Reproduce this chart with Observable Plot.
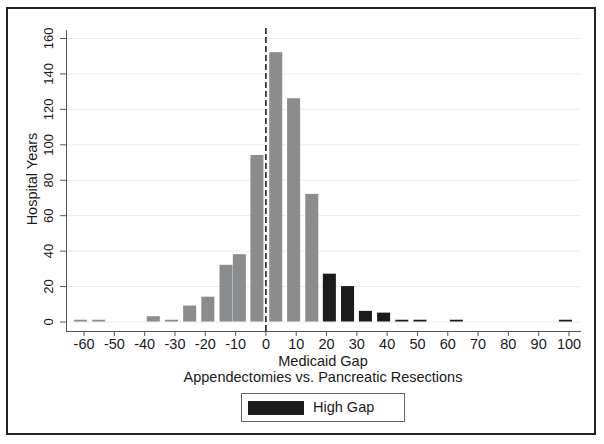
<!DOCTYPE html>
<html>
<head>
<meta charset="utf-8">
<script src="https://cdn.jsdelivr.net/npm/d3@7"></script>
<script src="https://cdn.jsdelivr.net/npm/@observablehq/plot@0.6"></script>
<style>
  html, body { margin: 0; padding: 0; background: #fff; }
  #wrap { position: relative; width: 604px; height: 444px; font-family: "Liberation Sans", Arial, sans-serif; color: #1a1a1a; }
  #frame { position: absolute; left: 6px; top: 7px; width: 590px; height: 428px; box-sizing: border-box; border: 2px solid #222; pointer-events: none; }
  .lbl { position: absolute; font-size: 14.5px; white-space: nowrap; transform: translate(-50%, -50%); }
  #legend { position: absolute; left: 241px; top: 393px; width: 164px; height: 29px; box-sizing: border-box; border: 1px solid #666; background: #fff; }
  #swatch { position: absolute; left: 6px; top: 7px; width: 56px; height: 14px; background: #1c1c1c; }
  #legtext { position: absolute; left: 71px; top: 5px; font-size: 14.5px; }
</style>
</head>
<body>
<div id="wrap">
  <div id="chart"></div>
</div>
<script>
// ---- data ----
const binCenters    = [-61, -55, -37, -31, -25, -19, -13, -8.6, -2.8, 3.4, 9.3, 15.3, 21.1, 27.1, 33, 39, 45, 51, 63, 99];
const hospitalYears = [1, 1, 3, 1, 9, 14, 32, 38, 94, 152, 126, 72, 27, 20, 6, 5, 1, 1, 1, 1];
const gapGroup      = ["low","low","low","low","low","low","low","low","low","low","low","low","high","high","high","high","high","high","high","high"];
const xTickValues   = [-60, -50, -40, -30, -20, -10, 0, 10, 20, 30, 40, 50, 60, 70, 80, 90, 100];
const yTickValues   = [0, 20, 40, 60, 80, 100, 120, 140, 160];
const xLabel = "Medicaid Gap";
const subLabel = "Appendectomies vs. Pancreatic Resections";
const yLabel = "Hospital Years";
const legendLabel = "High Gap";

const barHalf = 2.15;
const xDom = [-65.8, 103.8];
const yDom = [-5.36, 164.5];

const bars = binCenters.map((c, i) => ({c, v: hospitalYears[i], g: gapGroup[i]}));

const chart = Plot.plot({
  width: 604,
  height: 444,
  marginLeft: 66,
  marginRight: 24,
  marginTop: 30,
  marginBottom: 113,
  style: {fontFamily: "Liberation Sans, Arial, sans-serif", fontSize: "14.5px", color: "#1a1a1a", background: "transparent"},
  x: {domain: xDom, axis: null},
  y: {domain: yDom, axis: null},
  color: {domain: ["low", "high"], range: ["#8b8c8e", "#1c1c1c"]},
  marks: [
    Plot.ruleY(yTickValues, {y: d => d, stroke: "#ebebeb", strokeWidth: 1}),
    Plot.rectY(bars, {x1: d => d.c - barHalf, x2: d => d.c + barHalf, y1: () => 0, y2: "v", fill: "g"}),
    Plot.ruleX([0], {x: d => d, y1: () => yDom[0], y2: () => 167.3, stroke: "#111", strokeWidth: 1.5, strokeDasharray: "6,3"}),
    Plot.axisX({ticks: xTickValues, tickSize: 5, tickPadding: 2, tickFormat: d => String(d), stroke: "#555", fill: "#1a1a1a", fontSize: 14.5, label: null}),
    Plot.axisY({ticks: yTickValues, tickSize: 6, tickFormat: () => "", stroke: "#555", label: null}),
    Plot.frame({anchor: "left", stroke: "#555"}),
    Plot.frame({anchor: "bottom", stroke: "#555"}),
    Plot.text(yTickValues, {x: () => xDom[0], y: d => d, text: d => String(d), rotate: -90, dx: -18, fontSize: 13, fill: "#1a1a1a", textAnchor: "middle"})
  ]
});
document.getElementById("chart").appendChild(chart);

const wrap = document.getElementById("wrap");
function addLabel(text, x, y, rot) {
  const el = document.createElement("div");
  el.className = "lbl";
  el.textContent = text;
  el.style.left = x + "px";
  el.style.top = y + "px";
  if (rot) el.style.transform = "translate(-50%, -50%) rotate(" + rot + "deg)";
  wrap.appendChild(el);
}
addLabel(xLabel, 323, 361);
addLabel(subLabel, 323, 377);
addLabel(yLabel, 32, 179, -90);

const leg = document.createElement("div");
leg.id = "legend";
leg.innerHTML = '<div id="swatch"></div><div id="legtext"></div>';
wrap.appendChild(leg);
document.getElementById("legtext").textContent = legendLabel;

const fr = document.createElement("div");
fr.id = "frame";
wrap.appendChild(fr);
</script>
</body>
</html>
